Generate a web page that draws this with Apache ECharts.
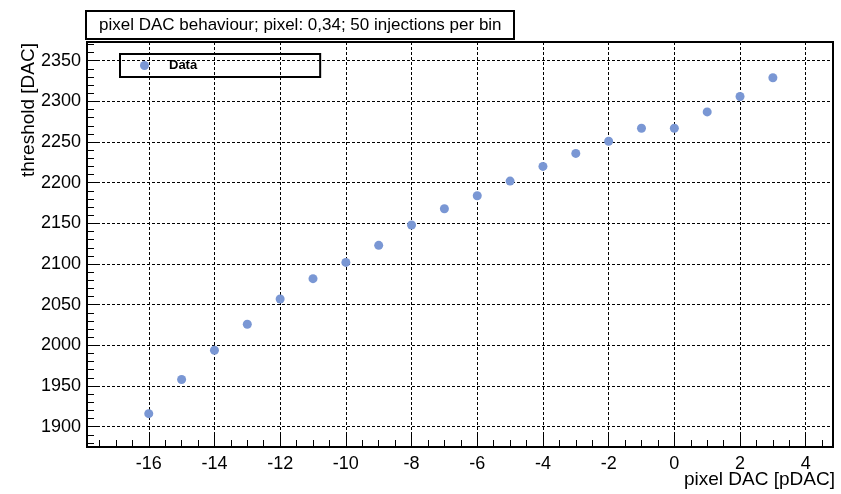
<!DOCTYPE html>
<html>
<head>
<meta charset="utf-8">
<script src="https://cdn.jsdelivr.net/npm/echarts@6/dist/echarts.min.js"></script>
<style>
html,body{margin:0;padding:0;background:#fff;}
#chart{width:841px;height:494px;}
</style>
</head>
<body>
<div id="chart"></div>
<script>
// ---- data ----
const pixelDAC = [-16, -15, -14, -13, -12, -11, -10, -9, -8, -7, -6, -5, -4, -3, -2, -1, 0, 1, 2, 3];
const threshold = [1916, 1958, 1994, 2026, 2057, 2082, 2102, 2123, 2148, 2168, 2184, 2202, 2220, 2236, 2251, 2267, 2267, 2287, 2306, 2329];
const xTickLabels = [-16, -14, -12, -10, -8, -6, -4, -2, 0, 2, 4];
const yTickLabels = [1900, 1950, 2000, 2050, 2100, 2150, 2200, 2250, 2300, 2350];
const titleText = 'pixel DAC behaviour; pixel: 0,34; 50 injections per bin';
const seriesName = 'Data';
const xTitle = 'pixel DAC [pDAC]';
const yTitle = 'threshold [DAC]';

const X_MIN = -17.88, X_MAX = 4.83;
const Y_MIN = 1875, Y_MAX = 2373;
const FONT = "'Liberation Sans', Arial, sans-serif";

const chart = echarts.init(document.getElementById('chart'), null, {renderer: 'canvas'});

function isTick(list, v) {
  return list.some(t => Math.abs(t - v) < 1e-6);
}

const option = {
  backgroundColor: '#fff',
  animation: false,
  title: {
    text: titleText,
    left: 86, top: 11,
    padding: [5, 13, 5, 13],
    borderColor: '#000', borderWidth: 2,
    textStyle: {fontFamily: FONT, fontSize: 17, fontWeight: 'normal', color: '#000', lineHeight: 18}
  },
  legend: {
    left: 120, top: 54,
    padding: [5, 123, 5, 20],
    borderColor: '#000', borderWidth: 2,
    itemWidth: 9, itemHeight: 9,
    icon: 'circle',
    data: [seriesName],
    textStyle: {fontFamily: FONT, fontSize: 13, fontWeight: 'bold', color: '#000', padding: [0, 0, 0, 15]}
  },
  grid: {
    left: 87, top: 42, right: 8, bottom: 47,
    show: true, borderColor: '#000', borderWidth: 2,
    backgroundColor: 'transparent',
    containLabel: false,
    outerBoundsMode: 'none'
  },
  xAxis: [
    {
      type: 'value', position: 'bottom',
      min: X_MIN, max: X_MAX, minInterval: 2, maxInterval: 2,
      axisLine: {show: false, onZero: false},
      axisTick: {show: true, inside: true, length: 15, lineStyle: {color: '#000', width: 1}},
      axisLabel: {
        fontFamily: FONT, fontSize: 18, color: '#000', margin: 8,
        formatter: v => isTick(xTickLabels, v) ? String(Math.round(v)) : ''
      },
      splitLine: {show: true, lineStyle: {color: '#000', width: 1, type: [3, 2]}},
      name: xTitle, nameLocation: 'end', nameGap: 2, nameMoveOverlap: false,
      nameTextStyle: {fontFamily: FONT, fontSize: 19, color: '#000', align: 'right', verticalAlign: 'top', padding: [23, 0, 0, 0]}
    },
    {
      type: 'value', position: 'bottom',
      min: X_MIN, max: X_MAX, minInterval: 0.5, maxInterval: 0.5,
      axisLine: {show: false, onZero: false},
      axisTick: {show: true, inside: true, length: 7, lineStyle: {color: '#000', width: 1}},
      axisLabel: {show: false},
      splitLine: {show: false}
    }
  ],
  yAxis: [
    {
      type: 'value', position: 'left',
      min: Y_MIN, max: Y_MAX, minInterval: 50, maxInterval: 50,
      axisLine: {show: false, onZero: false},
      axisTick: {show: true, inside: true, length: 11, lineStyle: {color: '#000', width: 1}},
      axisLabel: {
        fontFamily: FONT, fontSize: 18, color: '#000', margin: 6,
        formatter: v => isTick(yTickLabels, v) ? String(Math.round(v)) : ''
      },
      splitLine: {show: true, lineStyle: {color: '#000', width: 1, type: [3, 2]}},
      name: yTitle, nameLocation: 'end', nameGap: -1, nameRotate: 90, nameMoveOverlap: false,
      nameTextStyle: {fontFamily: FONT, fontSize: 19, color: '#000', align: 'right', verticalAlign: 'bottom', padding: [0, 0, 49, 0]}
    },
    {
      type: 'value', position: 'left',
      min: Y_MIN, max: Y_MAX, minInterval: 10, maxInterval: 10,
      axisLine: {show: false, onZero: false},
      axisTick: {show: true, inside: true, length: 7, lineStyle: {color: '#000', width: 1}},
      axisLabel: {show: false},
      splitLine: {show: false}
    }
  ],
  series: [
    {
      name: seriesName,
      type: 'scatter',
      xAxisIndex: 0, yAxisIndex: 0,
      symbol: 'circle', symbolSize: 9,
      itemStyle: {color: '#7a97d4', opacity: 1},
      data: pixelDAC.map((x, i) => [x, threshold[i]]),
      z: 10
    }
  ]
};
chart.setOption(option);
</script>
</body>
</html>
